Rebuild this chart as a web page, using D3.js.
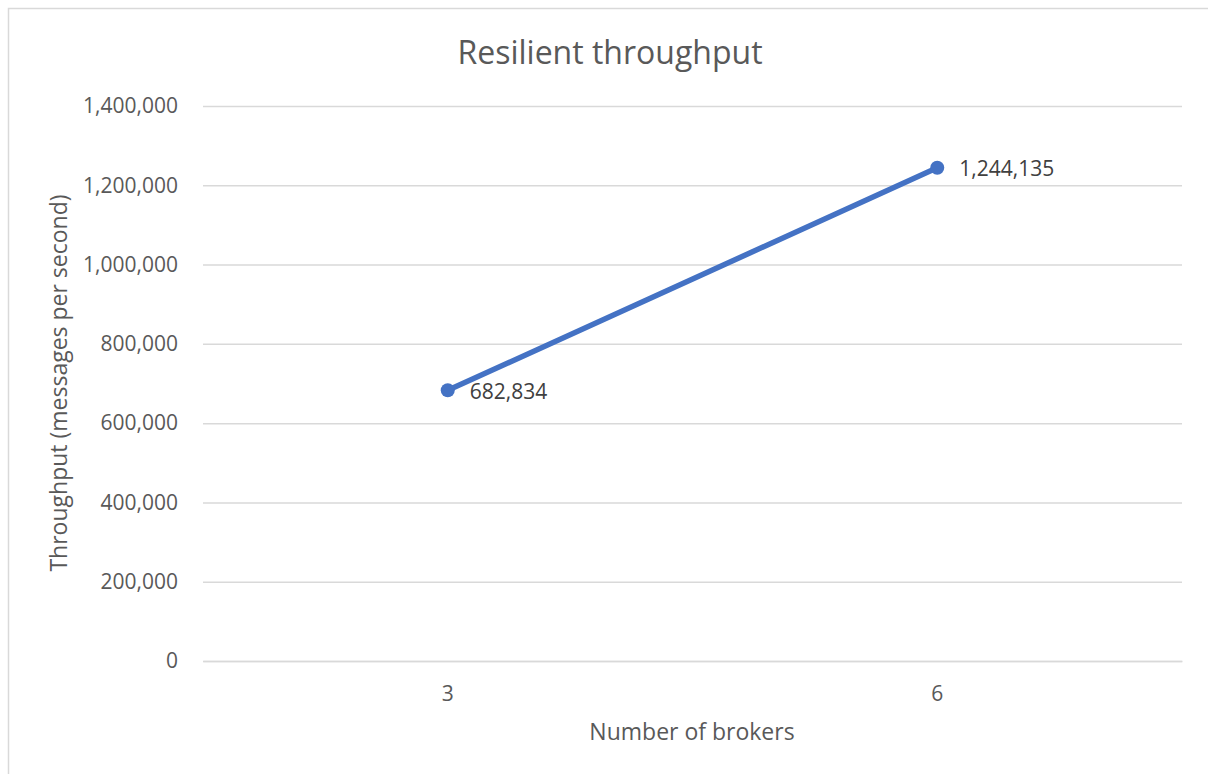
<!DOCTYPE html>
<html>
<head>
<meta charset="utf-8">
<script src="https://cdn.jsdelivr.net/npm/d3@7"></script>
<style>
  html, body { margin: 0; padding: 0; background: #fff; }
  svg { display: block; }
  text { font-family: "Open Sans", "Noto Sans", sans-serif; fill: #595959; }
</style>
</head>
<body>
<svg id="chart" width="1208" height="774"></svg>
<script>
const categories = ["3", "6"];
const throughput = [682834, 1244135];
const yTicks = [0, 200000, 400000, 600000, 800000, 1000000, 1200000, 1400000];
const chartTitle = "Resilient throughput";
const xTitle = "Number of brokers";
const yTitle = "Throughput (messages per second)";

const svg = d3.select("#chart");
const m = { left: 203, right: 1182, top: 106, bottom: 661 };

svg.append("rect")
  .attr("x", 8.5).attr("y", 8.5)
  .attr("width", 1240).attr("height", 800)
  .attr("fill", "#fff").attr("stroke", "#d9d9d9").attr("stroke-width", 1.5);

const x = d3.scaleBand().domain(categories).range([m.left, m.right]);
const y = d3.scaleLinear().domain([0, 1400000]).range([m.bottom, m.top]);
const fmt = d3.format(",");

// gridlines + y labels
const yAxis = d3.axisLeft(y).tickValues(yTicks).tickFormat(fmt)
  .tickSize(-(m.right - m.left)).tickPadding(25);
const gy = svg.append("g").attr("transform", `translate(${m.left},0)`).call(yAxis);
gy.select(".domain").remove();
gy.selectAll(".tick line").attr("stroke", "#d9d9d9").attr("stroke-width", 1.5);
gy.selectAll(".tick text").attr("font-size", 21).attr("fill", "#595959")
  .style("font-family", '"Open Sans", sans-serif');

// x labels
const xAxis = d3.axisBottom(x).tickSize(0).tickPadding(25);
const gx = svg.append("g").attr("transform", `translate(0,${m.bottom})`).call(xAxis);
gx.select(".domain").attr("stroke", "#d9d9d9").attr("stroke-width", 1.5);
gx.selectAll(".tick text").attr("font-size", 21).attr("fill", "#595959")
  .style("font-family", '"Open Sans", sans-serif');

// line
const pts = categories.map((c, i) => ({ c, v: throughput[i] }));
const cx = d => x(d.c) + x.bandwidth() / 2;
svg.append("path").datum(pts)
  .attr("fill", "none").attr("stroke", "#4472C4").attr("stroke-width", 5.5)
  .attr("stroke-linecap", "round")
  .attr("d", d3.line().x(cx).y(d => y(d.v)));

svg.selectAll("circle.pt").data(pts).join("circle")
  .attr("class", "pt")
  .attr("cx", cx).attr("cy", d => y(d.v)).attr("r", 7)
  .attr("fill", "#4472C4");

svg.selectAll("text.lbl").data(pts).join("text")
  .attr("class", "lbl")
  .attr("x", d => cx(d) + 22).attr("y", d => y(d.v) + 3)
  .attr("dominant-baseline", "middle")
  .attr("font-size", 21).style("fill", "#404040")
  .text(d => fmt(d.v));

// titles
svg.append("text").attr("x", 610).attr("y", 64)
  .attr("text-anchor", "middle").attr("font-size", 32).text(chartTitle);

svg.append("text").attr("x", 692).attr("y", 740)
  .attr("text-anchor", "middle").attr("font-size", 23).text(xTitle);

svg.append("text")
  .attr("transform", `translate(67,383) rotate(-90)`)
  .attr("text-anchor", "middle").attr("font-size", 23).text(yTitle);
</script>
</body>
</html>
